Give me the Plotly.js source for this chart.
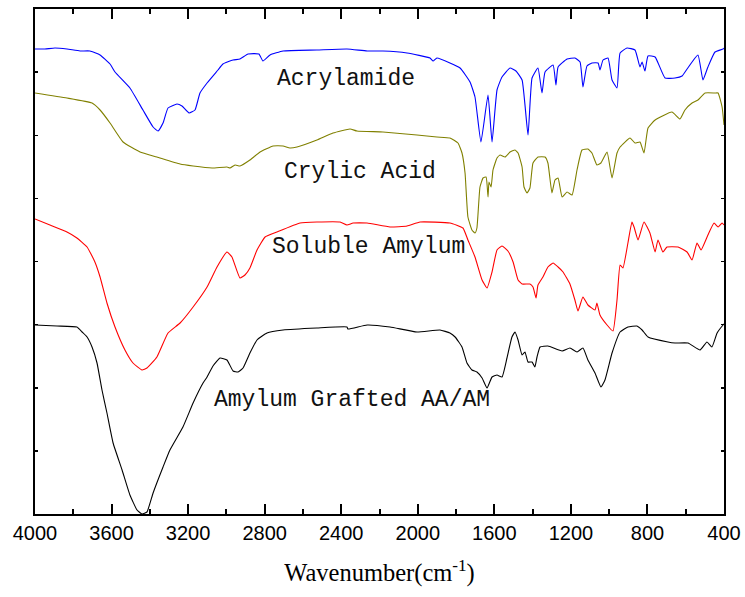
<!DOCTYPE html>
<html>
<head>
<meta charset="utf-8">
<script src="https://cdn.plot.ly/plotly-3.0.1.min.js"></script>
<style>html,body{margin:0;padding:0;background:#fff;}#chart{width:745px;height:597px;}</style>
</head>
<body>
<div id="chart"></div>
<script>
// Wavenumbers (cm-1) and transmittance (arbitrary offset units)
const acrylamideW = [4000,3948,3896,3833,3765,3713,3660,3608,3582,3504,3436,3383,3357,3331,3305,3258,3232,3195,3164,3138,3101,3044,3018,2965,2929,2887,2830,2809,2772,2704,2527,2370,2265,2182,2056,1936,1920,1900,1832,1779,1727,1701,1670,1633,1612,1586,1560,1518,1487,1455,1424,1403,1372,1351,1335,1293,1278,1267,1220,1179,1152,1137,1116,1090,1058,1048,1032,1006,985,959,943,907,865,839,828,813,797,760,708,656,619,593,536,510,484,447,405,400];
const acrylamideT = [465,465,466,465,463,463,459,450,442,426,404,387,383,391,406,410,408,401,404,421,431,444,450,454,455,460,460,453,459,463,464,465,463,463,461,456,453,456,451,446,432,417,372,419,372,424,437,446,443,434,379,436,446,421,442,449,429,447,455,456,452,427,448,451,451,444,454,456,434,426,461,466,464,447,452,443,458,457,436,436,438,445,459,434,447,462,465,466];

const acidW = [4000,3833,3702,3660,3608,3540,3451,3363,3242,3174,3075,2997,2981,2955,2929,2877,2824,2756,2704,2668,2631,2527,2443,2354,2318,2182,2004,1900,1832,1790,1769,1753,1738,1717,1701,1691,1675,1659,1643,1633,1628,1617,1607,1586,1570,1544,1518,1492,1476,1455,1445,1429,1414,1398,1372,1335,1320,1299,1283,1267,1246,1220,1194,1168,1142,1111,1090,1064,1043,1011,985,959,943,891,865,839,818,797,760,672,630,604,567,536,499,447,431,410,400];
const acidT = [421,416,411,404,391,372,362,357,350,348,346,347,346,349,348,354,362,368,368,366,367,374,381,385,383,382,379,377,376,371,361,341,297,284,281,286,327,336,337,317,332,327,344,356,359,357,362,364,361,347,327,321,326,351,357,357,351,321,334,336,317,322,319,344,364,365,361,349,351,362,336,361,367,376,371,372,361,386,394,402,395,404,411,414,421,421,421,407,389];

const amylumW = [4000,3922,3833,3781,3728,3687,3660,3624,3582,3530,3488,3441,3415,3363,3305,3242,3174,3101,3049,2997,2971,2929,2903,2877,2840,2798,2736,2615,2527,2406,2370,2338,2265,2145,2056,1988,1832,1764,1738,1701,1664,1638,1612,1586,1560,1529,1502,1476,1455,1414,1398,1382,1372,1346,1320,1293,1267,1241,1205,1179,1163,1137,1111,1074,1064,1048,1011,980,959,943,928,902,881,870,849,818,787,760,745,719,698,640,593,567,541,520,484,452,431,410,400];
const amylumT = [295,289,282,276,267,252,237,211,187,164,151,144,146,157,181,191,207,227,247,262,257,236,239,246,264,277,282,291,292,292,289,291,291,287,288,292,291,286,274,257,234,226,242,264,268,263,252,234,230,230,227,216,229,237,247,251,247,242,230,214,203,217,209,204,211,199,189,183,214,249,246,271,292,287,274,292,281,262,274,262,267,267,262,254,271,264,279,291,287,291,289];

const graftW = [4000,3885,3781,3754,3728,3702,3676,3650,3624,3592,3545,3504,3467,3441,3415,3383,3331,3295,3227,3174,3122,3101,3070,3033,2997,2965,2939,2913,2877,2840,2788,2704,2527,2370,2365,2265,2145,2004,1884,1832,1805,1769,1743,1717,1691,1664,1638,1612,1586,1560,1534,1508,1492,1476,1455,1440,1424,1403,1388,1377,1361,1320,1246,1205,1168,1137,1111,1074,1043,1022,985,943,902,855,828,797,693,656,588,525,489,463,436,405,400];
const graftT = [189,188,187,182,177,167,151,124,101,71,44,19,4,0,2,21,47,64,87,111,131,137,148,156,154,143,142,146,161,174,181,184,186,187,185,189,187,182,184,181,177,167,151,144,142,136,126,137,139,137,156,177,182,174,159,162,152,152,147,157,167,168,163,166,162,166,154,141,127,134,161,182,187,188,184,177,172,171,171,164,172,167,181,189,190];

const seriesNames = ['Acrylamide','Crylic Acid','Soluble Amylum','Amylum Grafted AA/AM'];
const labelW = [2375, 2302, 2260, 2344];
const labelT = [435, 342, 267, 114];
const xTickVals = [4000,3600,3200,2800,2400,2000,1600,1200,800,400];
const xTickText = ['4000','3600','3200','2800','2400','2000','1600','1200','800','400'];

const lineStyle = (c) => ({color: c, width: 1.1, shape: 'spline', smoothing: 0.4});
const traces = [
  {x: acrylamideW, y: acrylamideT, name: seriesNames[0], mode: 'lines', line: lineStyle('#0000ff')},
  {x: acidW, y: acidT, name: seriesNames[1], mode: 'lines', line: lineStyle('#808000')},
  {x: amylumW, y: amylumT, name: seriesNames[2], mode: 'lines', line: lineStyle('#ff0000')},
  {x: graftW, y: graftT, name: seriesNames[3], mode: 'lines', line: lineStyle('#000000')}
];

const annotations = seriesNames.map((t, i) => ({
  x: labelW[i], y: labelT[i], xref: 'x', yref: 'y', text: t, showarrow: false,
  xanchor: 'center', yanchor: 'middle',
  font: {family: 'Liberation Mono, monospace', size: 23, color: '#111'}
}));

const layout = {
  width: 745, height: 597,
  margin: {l: 35, r: 21, t: 9, b: 83},
  paper_bgcolor: '#fff', plot_bgcolor: '#fff',
  showlegend: false,
  annotations: annotations,
  xaxis: {
    range: [4000, 400], autorange: false,
    tickmode: 'array', tickvals: xTickVals, ticktext: xTickText,
    ticks: 'inside', ticklen: 10, tickwidth: 2, tickcolor: '#000',
    minor: {dtick: 200, tick0: 400, ticks: 'inside', ticklen: 5, tickwidth: 2, tickcolor: '#000', showgrid: false},
    showline: true, linecolor: '#000', linewidth: 2, mirror: 'ticks',
    showgrid: false, zeroline: false,
    tickfont: {family: 'Liberation Sans, Arial, sans-serif', size: 20, color: '#000'},
    title: {text: 'Wavenumber(cm<sup>-1</sup>)', font: {family: 'Liberation Serif, Times New Roman, serif', size: 24.5, color: '#000'}, standoff: 21}
  },
  yaxis: {
    range: [0, 505], autorange: false,
    tick0: 0, dtick: 63.125,
    ticks: 'inside', ticklen: 3, tickwidth: 1.5, tickcolor: '#000',
    showticklabels: false,
    showline: true, linecolor: '#000', linewidth: 2, mirror: 'ticks',
    showgrid: false, zeroline: false
  }
};

Plotly.newPlot('chart', traces, layout, {displayModeBar: false, staticPlot: true});
</script>
</body>
</html>
